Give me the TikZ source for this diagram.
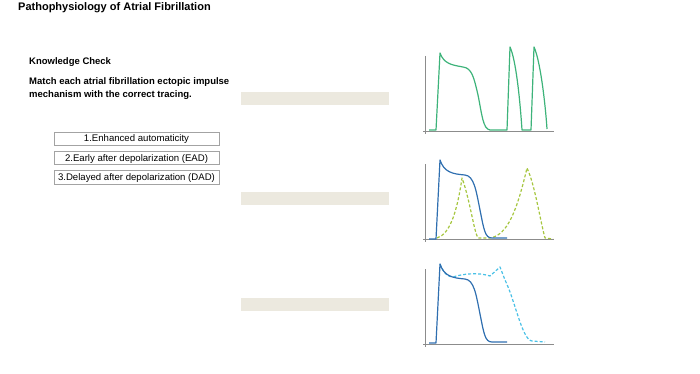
\documentclass[tikz,border=0pt]{standalone}
\usepackage{fontspec}
\setmainfont{Liberation Sans}
\usepackage{xcolor}
\definecolor{afGreen}{HTML}{3DB37A}
\definecolor{afBlue}{HTML}{2F6FB0}
\definecolor{afLime}{HTML}{A6C63F}
\definecolor{afCyan}{HTML}{48C0E6}
\definecolor{afBar}{HTML}{ECE9DF}
\definecolor{afGrey}{HTML}{8C8C8C}
\usetikzlibrary{positioning}

\begin{document}
\begin{tikzpicture}[
    x=1pt, y=-1pt,
    heading/.style={anchor=west, inner sep=0pt, font=\fontsize{9.5}{13.5}\selectfont\bfseries, align=left},
    mechbox/.style={draw=afGrey!80, rectangle, inner sep=0pt, text height=6.9pt, text depth=0.5pt, minimum width=165pt, minimum height=13.5pt, font=\fontsize{9.6}{11}\selectfont},
    dropbar/.style={fill=afBar, draw=none, rectangle, inner sep=0pt, minimum width=148pt, minimum height=13pt},
    axis/.style={draw=afGrey, line width=0.9pt},
    trace/.style={line width=1.2pt, line join=round}
]
\useasboundingbox (0,0) rectangle (700,374);

% title and question
\node (title) [anchor=west, inner sep=0pt, font=\fontsize{11}{13}\selectfont\bfseries] at (18,8) {Pathophysiology of Atrial Fibrillation};
\node (check) [heading] at (29,62) {Knowledge Check};
\node (task) [heading] at (29,88.5) {Match each atrial fibrillation ectopic impulse\\mechanism with the correct tracing.};

% mechanisms
\node (mechA) [mechbox] at (136.5,138.5) {1.Enhanced automaticity};
\node (mechB) [mechbox, below=5.5pt of mechA] {2.Early after depolarization (EAD)};
\node (mechC) [mechbox, below=5.5pt of mechB] {3.Delayed after depolarization (DAD)};

% answer slots
\node (slotA) [dropbar] at (315,98.5) {};
\node (slotB) [dropbar] at (315,198.5) {};
\node (slotC) [dropbar] at (315,304.5) {};

% axes
\foreach \dy in {0,108,213} {
    \draw[axis] (425.5,56+\dy) -- (425.5,134+\dy);
    \draw[axis] (423,131+\dy) -- (554,131+\dy);
}

% tracing 1
\draw[trace, afGreen] (429,130) -- (436,130) -- (440,53)
    .. controls (444,64) and (452,65) .. (463,67)
    .. controls (472,68) and (474,78) .. (478,95)
    .. controls (482,115) and (483,129) .. (490,130) -- (507,130)
    -- (510,47) .. controls (516,60) and (520,100) .. (522,130) -- (531,130)
    -- (534,47) .. controls (540,60) and (545,100) .. (547,129);

% tracing 2
\draw[trace, afLime, densely dashed] (437,238)
    .. controls (450,234) and (457,212) .. (462,178)
    .. controls (470,200) and (474,232) .. (478,238) -- (490,238)
    .. controls (508,235) and (517,210) .. (527,168)
    .. controls (535,185) and (540,220) .. (545,238) -- (553,239);
\draw[trace, afBlue] (429,239) -- (436,239) -- (440,160)
    .. controls (444,172) and (452,174) .. (465,175)
    .. controls (474,176) and (476,190) .. (480,210)
    .. controls (484,230) and (485,238) .. (492,238) -- (507,238);

% tracing 3
\draw[trace, afCyan, densely dashed] (440,264)
    .. controls (443,272) and (447,277) .. (453,277)
    .. controls (462,274) and (478,272) .. (490,276) -- (500,267) -- (505,280)
    .. controls (515,300) and (522,340) .. (532,341) -- (545,342);
\draw[trace, afBlue] (429,343) -- (436,343) -- (440,264)
    .. controls (444,276) and (452,278) .. (465,279)
    .. controls (474,280) and (476,294) .. (480,314)
    .. controls (484,334) and (485,342) .. (492,342) -- (507,342);

\end{tikzpicture}
\end{document}
